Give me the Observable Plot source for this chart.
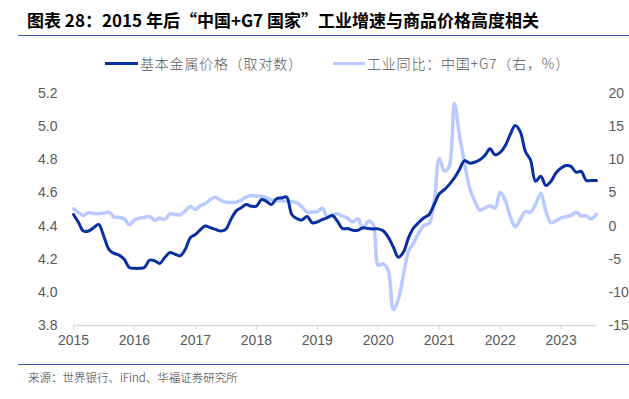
<!DOCTYPE html>
<html>
<head>
<meta charset="utf-8">
<script src="https://cdn.jsdelivr.net/npm/d3@7"></script>
<script src="https://cdn.jsdelivr.net/npm/@observablehq/plot@0.6"></script>
<style>
  html, body { margin: 0; padding: 0; background: #fff; }
  #root { position: relative; width: 629px; height: 399px; overflow: hidden; font-family: "Liberation Sans", Arial, "Noto Sans CJK SC", sans-serif; }
  .title { position: absolute; left: 27px; top: 9px; font-family: "Noto Sans CJK SC", sans-serif; font-weight: 700; font-size: 17px; color: #000; white-space: nowrap; line-height: 22px; }
  .rule { position: absolute; left: 18px; right: 0; height: 0; border-top: 1.5px solid #2f5fa8; }
  .leg { position: absolute; top: 53px; font-family: "Noto Sans CJK SC", sans-serif; font-weight: 300; font-size: 14px; letter-spacing: 0.8px; color: #595959; white-space: nowrap; line-height: 20px; }
  .sw { position: absolute; height: 3px; }
  .cap { position: absolute; left: 28px; top: 369px; font-family: "Noto Sans CJK SC", sans-serif; font-weight: 300; font-size: 11.5px; color: #333; white-space: nowrap; line-height: 16px; }
  #plot { position: absolute; left: 0; top: 75px; }
</style>
</head>
<body>
<div id="root">
  <div class="title">图表 28：2015 年后“中国+G7 国家”工业增速与商品价格高度相关</div>
  <div class="rule" style="top:35px"></div>
  <div class="sw" style="left:105px;top:62px;width:33px;background:#0a2fa0"></div>
  <div class="leg" style="left:140px">基本金属价格（取对数）</div>
  <div class="sw" style="left:333px;top:62px;width:32px;background:#b8caff"></div>
  <div class="leg" style="left:367px">工业同比：中国+G7（右，%）</div>
  <div id="plot"></div>
  <div class="rule" style="top:364px"></div>
  <div class="cap">来源：世界银行、iFind、华福证券研究所</div>
</div>
<script>
// Monthly series, 2015-01 .. 2023-08
const startMonth = "2015-01";
const metalLog = [
  4.47, 4.42, 4.37, 4.37, 4.39, 4.41, 4.34, 4.26, 4.235, 4.225, 4.20, 4.15,
  4.145, 4.145, 4.15, 4.195, 4.19, 4.175, 4.21, 4.24, 4.23, 4.22, 4.26, 4.33,
  4.35, 4.38, 4.40, 4.39, 4.38, 4.37, 4.38, 4.44, 4.49, 4.51, 4.53, 4.52,
  4.52, 4.56, 4.55, 4.53, 4.565, 4.57, 4.575, 4.47, 4.445, 4.437, 4.458, 4.42,
  4.425, 4.44, 4.45, 4.464, 4.43, 4.385, 4.385, 4.375, 4.375, 4.39, 4.385, 4.383,
  4.383, 4.37, 4.333, 4.272, 4.212, 4.245, 4.33, 4.39, 4.423, 4.45, 4.47, 4.53,
  4.595, 4.62, 4.65, 4.69, 4.74, 4.795, 4.78, 4.785, 4.80, 4.826, 4.866, 4.83,
  4.845, 4.886, 4.95, 5.007, 4.97, 4.85, 4.80, 4.67, 4.70, 4.645, 4.67, 4.72,
  4.75, 4.765, 4.76, 4.725, 4.73, 4.675, 4.675, 4.675
];
const industryYoY = [
  2.6, 2.0, 1.6, 2.0, 1.9, 1.85, 1.95, 2.1, 1.4, 1.3, 1.1, 0.2,
  0.9, 1.2, 1.3, 1.45, 0.85, 1.2, 1.0, 1.85, 1.75, 1.7, 2.3, 2.96,
  2.5, 3.1, 3.4, 4.0, 4.36, 3.9, 3.6, 3.55, 3.6, 3.9, 4.4, 4.6,
  4.55, 4.5, 4.3, 3.95, 3.86, 3.8, 3.76, 3.7, 3.5, 2.9, 2.1, 2.1,
  2.2, 2.7, 1.4, 1.7, 1.85, 1.5, 1.2, 0.6, 1.1, -0.4, 0.7, 0.3,
  -5.9, -5.7, -6.7, -12.6, -11.0, -7.2, -3.8, -2.5, -1.0, 0.1, 0.4, 3.5,
  10.2, 8.3, 9.0, 18.5, 13.8, 9.6, 5.8, 3.8, 2.4, 2.7, 3.1, 2.7,
  5.1, 3.8, 1.5, -0.1, 1.0, 2.2, 2.1, 3.3, 4.9, 2.3, 0.5, 0.8,
  1.25, 1.4, 1.6, 2.1, 1.55, 1.55, 1.1, 1.75
];
const leftTicks = [3.8, 4.0, 4.2, 4.4, 4.6, 4.8, 5.0, 5.2];
const rightTicks = [-15, -10, -5, 0, 5, 10, 15, 20];
const yearTicks = [2015, 2016, 2017, 2018, 2019, 2020, 2021, 2022, 2023];

// right axis mapping onto left scale: right 0 <-> 4.4, 5 units <-> 0.2
const toLeft = v => 4.4 + v * 0.04;

const start = d3.utcParse("%Y-%m")(startMonth);
const data = metalLog.map((m, i) => ({
  date: d3.utcMonth.offset(start, i),
  metal: m,
  ind: industryYoY[i]
}));
const xEnd = data[data.length - 1].date;

const chart = Plot.plot({
  width: 629,
  height: 275,
  marginTop: 18,
  marginBottom: 25,
  marginLeft: 73,
  marginRight: 33,
  style: { fontFamily: '"Liberation Sans", Arial, sans-serif', fontSize: "14px", color: "#595959", background: "transparent" },
  x: { type: "utc", domain: [start, xEnd] },
  y: { domain: [3.8, 5.2] },
  marks: [
    Plot.ruleY([3.8], { stroke: "#d9d9d9", strokeWidth: 1.5 }),
    Plot.axisX(yearTicks.map(y => new Date(Date.UTC(y, 0, 1))), {
      tickFormat: d3.utcFormat("%Y"), tickSize: 5, tickPadding: 5, stroke: "#d9d9d9", fill: "#595959", fontSize: 14, label: null
    }),
    Plot.axisY(leftTicks, { anchor: "left", tickSize: 0, tickPadding: 16, tickFormat: d => d.toFixed(1), fill: "#595959", fontSize: 14, label: null }),
    Plot.axisY(rightTicks.map(toLeft), { anchor: "right", tickSize: 0, tickPadding: 12, tickFormat: d => String(Math.round((d - 4.4) / 0.04)), textAnchor: "start", fill: "#595959", fontSize: 14, label: null }),
    Plot.line(data, { x: "date", y: d => toLeft(d.ind), stroke: "#b8caff", strokeWidth: 3.5, curve: "catmull-rom" }),
    Plot.line(data, { x: "date", y: "metal", stroke: "#0a2fa0", strokeWidth: 3, curve: "catmull-rom" })
  ]
});
document.getElementById("plot").appendChild(chart);
</script>
</body>
</html>
